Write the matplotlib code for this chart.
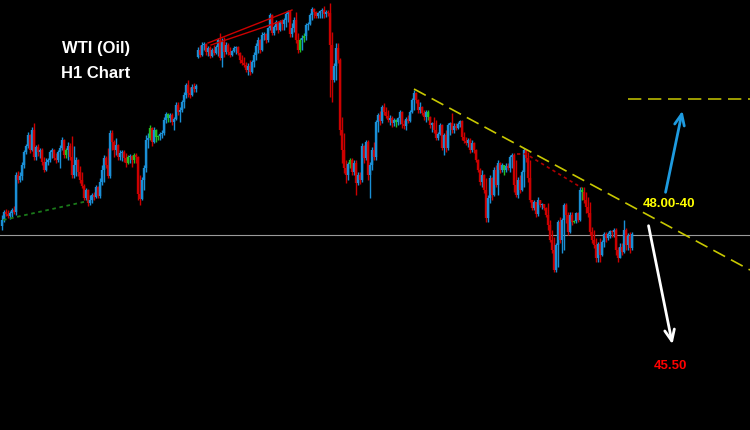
import matplotlib
matplotlib.use("Agg")
import matplotlib.pyplot as plt
import numpy as np

# WTI H1 candles (price)
opens = [47.74, 47.80, 47.88, 47.86, 47.84, 47.87, 47.90, 47.88, 48.25, 48.20,
         48.24, 48.35, 48.48, 48.54, 48.65, 48.50, 48.70, 48.43, 48.53, 48.48,
         48.50, 48.38, 48.30, 48.38, 48.40, 48.48, 48.50, 48.42, 48.40, 48.48,
         48.52, 48.60, 48.45, 48.50, 48.54, 48.43, 48.25, 48.35, 48.40, 48.28,
         48.20, 48.14, 48.02, 48.10, 47.97, 48.00, 48.05, 48.03, 48.13, 48.04,
         48.18, 48.30, 48.42, 48.35, 48.24, 48.67, 48.58, 48.50, 48.55, 48.43,
         48.47, 48.48, 48.42, 48.37, 48.43, 48.44, 48.40, 48.45, 48.43, 48.06,
         48.01, 48.20, 48.32, 48.60, 48.62, 48.72, 48.58, 48.70, 48.63, 48.64,
         48.66, 48.67, 48.80, 48.86, 48.82, 48.85, 48.78, 48.81, 48.95, 48.88,
         48.90, 48.98, 49.05, 49.15, 49.07, 49.05, 49.13, 49.11, 49.43, 49.50,
         49.45, 49.55, 49.56, 49.48, 49.52, 49.44, 49.50, 49.47, 49.53, 49.60,
         49.42, 49.58, 49.48, 49.55, 49.48, 49.45, 49.49, 49.52, 49.53, 49.47,
         49.40, 49.37, 49.35, 49.30, 49.34, 49.28, 49.38, 49.45, 49.54, 49.60,
         49.50, 49.65, 49.66, 49.60, 49.72, 49.85, 49.67, 49.73, 49.78, 49.70,
         49.78, 49.76, 49.80, 49.86, 49.89, 49.66, 49.72, 49.80, 49.60, 49.50,
         49.60, 49.62, 49.64, 49.75, 49.76, 49.85, 49.91, 49.88, 49.84, 49.87,
         49.89, 49.90, 49.86, 49.88, 49.87, 49.55, 49.20, 49.34, 49.52, 49.40,
         48.70, 48.50, 48.32, 48.25, 48.36, 48.40, 48.28, 48.37, 48.17, 48.25,
         48.20, 48.54, 48.42, 48.58, 48.25, 48.35, 48.50, 48.43, 48.78, 48.85,
         48.79, 48.93, 48.88, 48.84, 48.80, 48.82, 48.77, 48.80, 48.78, 48.82,
         48.88, 48.76, 48.74, 48.81, 48.79, 48.88, 49.00, 49.07, 49.00, 48.90,
         48.93, 48.87, 48.83, 48.88, 48.83, 48.75, 48.77, 48.70, 48.62, 48.66,
         48.75, 48.52, 48.65, 48.52, 48.75, 48.77, 48.70, 48.74, 48.72, 48.76,
         48.79, 48.63, 48.59, 48.57, 48.60, 48.50, 48.57, 48.50, 48.40, 48.30,
         48.18, 48.25, 48.10, 47.82, 48.02, 48.22, 48.05, 48.30, 48.15, 48.37,
         48.30, 48.35, 48.30, 48.34, 48.32, 48.43, 48.45, 48.15, 48.05, 48.20,
         48.10, 48.28, 48.50, 48.42, 48.22, 48.00, 47.92, 47.98, 47.86, 48.00,
         47.95, 47.96, 47.92, 47.85, 47.75, 47.60, 47.50, 47.30, 47.55, 47.78,
         47.60, 47.80, 47.95, 47.85, 47.68, 47.85, 47.78, 47.79, 47.87, 47.80,
         48.10, 48.08, 48.00, 47.93, 47.87, 47.68, 47.60, 47.55, 47.42, 47.56,
         47.45, 47.58, 47.66, 47.62, 47.66, 47.69, 47.68, 47.70, 47.50, 47.42,
         47.53, 47.48, 47.70, 47.55, 47.64, 47.52]

highs = [47.85, 47.90, 47.91, 47.90, 47.89, 47.92, 47.94, 48.28, 48.29, 48.28,
         48.38, 48.50, 48.56, 48.68, 48.66, 48.73, 48.77, 48.55, 48.56, 48.52,
         48.52, 48.43, 48.42, 48.42, 48.50, 48.52, 48.51, 48.47, 48.50, 48.55,
         48.63, 48.61, 48.52, 48.58, 48.57, 48.64, 48.54, 48.43, 48.41, 48.34,
         48.28, 48.16, 48.12, 48.11, 48.05, 48.07, 48.08, 48.15, 48.14, 48.22,
         48.35, 48.45, 48.44, 48.52, 48.70, 48.70, 48.60, 48.62, 48.56, 48.50,
         48.50, 48.50, 48.47, 48.45, 48.46, 48.45, 48.47, 48.47, 48.44, 48.25,
         48.23, 48.35, 48.65, 48.67, 48.75, 48.73, 48.73, 48.71, 48.65, 48.68,
         48.70, 48.83, 48.88, 48.87, 48.87, 48.87, 48.83, 48.98, 48.98, 48.93,
         49.00, 49.08, 49.17, 49.20, 49.13, 49.16, 49.17, 49.16, 49.53, 49.55,
         49.58, 49.58, 49.57, 49.54, 49.54, 49.52, 49.55, 49.55, 49.62, 49.67,
         49.62, 49.63, 49.58, 49.57, 49.53, 49.50, 49.54, 49.54, 49.54, 49.48,
         49.45, 49.43, 49.38, 49.37, 49.40, 49.40, 49.48, 49.57, 49.63, 49.61,
         49.68, 49.68, 49.67, 49.73, 49.87, 49.86, 49.75, 49.80, 49.79, 49.80,
         49.81, 49.82, 49.88, 49.90, 49.90, 49.77, 49.83, 49.88, 49.67, 49.62,
         49.65, 49.67, 49.77, 49.78, 49.87, 49.93, 49.92, 49.89, 49.88, 49.90,
         49.92, 49.94, 49.90, 49.90, 49.97, 49.68, 49.37, 49.57, 49.57, 49.42,
         48.83, 48.67, 48.40, 48.38, 48.42, 48.42, 48.40, 48.40, 48.28, 48.28,
         48.57, 48.55, 48.60, 48.60, 48.38, 48.53, 48.58, 48.80, 48.87, 48.89,
         48.95, 48.97, 48.93, 48.90, 48.85, 48.84, 48.82, 48.81, 48.83, 48.90,
         48.89, 48.80, 48.83, 48.85, 48.90, 49.02, 49.10, 49.08, 49.01, 48.98,
         48.94, 48.90, 48.90, 48.90, 48.84, 48.78, 48.83, 48.80, 48.68, 48.77,
         48.76, 48.67, 48.70, 48.77, 48.78, 48.87, 48.77, 48.77, 48.78, 48.80,
         48.80, 48.68, 48.63, 48.62, 48.62, 48.60, 48.58, 48.51, 48.41, 48.32,
         48.30, 48.26, 48.22, 48.05, 48.25, 48.23, 48.33, 48.35, 48.40, 48.38,
         48.37, 48.35, 48.37, 48.37, 48.45, 48.47, 48.47, 48.40, 48.23, 48.25,
         48.30, 48.52, 48.50, 48.48, 48.40, 48.00, 48.00, 47.98, 48.03, 48.00,
         47.97, 47.96, 47.93, 47.97, 47.80, 47.70, 47.63, 47.57, 47.80, 47.83,
         47.82, 47.97, 47.97, 47.88, 47.88, 47.88, 47.80, 47.88, 47.88, 48.13,
         48.13, 48.13, 48.08, 48.03, 47.98, 47.73, 47.70, 47.62, 47.58, 47.62,
         47.60, 47.68, 47.68, 47.68, 47.70, 47.70, 47.72, 47.72, 47.53, 47.57,
         47.57, 47.80, 47.72, 47.67, 47.68, 47.68]

lows = [47.70, 47.78, 47.84, 47.82, 47.81, 47.83, 47.86, 47.85, 48.17, 48.18,
        48.20, 48.32, 48.46, 48.52, 48.47, 48.49, 48.40, 48.40, 48.44, 48.42,
        48.35, 48.28, 48.29, 48.35, 48.38, 48.42, 48.40, 48.37, 48.38, 48.32,
        48.50, 48.42, 48.42, 48.40, 48.40, 48.22, 48.22, 48.24, 48.24, 48.17,
        48.12, 48.00, 48.00, 47.94, 47.95, 47.97, 48.00, 48.02, 48.02, 48.02,
        48.15, 48.18, 48.32, 48.22, 48.22, 48.50, 48.43, 48.45, 48.40, 48.40,
        48.39, 48.38, 48.33, 48.36, 48.37, 48.33, 48.37, 48.37, 48.00, 47.95,
        48.00, 48.10, 48.28, 48.52, 48.60, 48.54, 48.57, 48.58, 48.60, 48.60,
        48.62, 48.65, 48.77, 48.78, 48.78, 48.75, 48.70, 48.80, 48.85, 48.78,
        48.88, 48.92, 49.02, 49.03, 49.02, 49.04, 49.08, 49.08, 49.42, 49.43,
        49.44, 49.50, 49.45, 49.44, 49.42, 49.43, 49.45, 49.46, 49.44, 49.40,
        49.33, 49.43, 49.46, 49.45, 49.43, 49.44, 49.48, 49.46, 49.45, 49.37,
        49.35, 49.33, 49.28, 49.25, 49.25, 49.27, 49.33, 49.40, 49.47, 49.47,
        49.49, 49.60, 49.57, 49.58, 49.70, 49.65, 49.65, 49.70, 49.67, 49.69,
        49.70, 49.70, 49.73, 49.78, 49.63, 49.63, 49.68, 49.57, 49.47, 49.48,
        49.50, 49.58, 49.60, 49.70, 49.75, 49.80, 49.82, 49.82, 49.82, 49.82,
        49.82, 49.82, 49.83, 49.84, 49.03, 48.98, 49.18, 49.20, 49.37, 48.65,
        48.37, 48.27, 48.17, 48.20, 48.32, 48.25, 48.25, 48.05, 48.15, 48.16,
        48.18, 48.37, 48.40, 48.20, 48.02, 48.30, 48.40, 48.40, 48.68, 48.75,
        48.77, 48.85, 48.82, 48.78, 48.75, 48.73, 48.74, 48.73, 48.75, 48.76,
        48.72, 48.71, 48.70, 48.77, 48.78, 48.87, 48.90, 48.97, 48.87, 48.87,
        48.85, 48.80, 48.78, 48.80, 48.72, 48.68, 48.67, 48.60, 48.60, 48.65,
        48.50, 48.45, 48.48, 48.50, 48.65, 48.67, 48.67, 48.70, 48.71, 48.73,
        48.60, 48.57, 48.55, 48.53, 48.47, 48.48, 48.47, 48.38, 48.28, 48.15,
        48.13, 48.07, 47.78, 47.78, 47.97, 48.00, 48.04, 48.13, 48.05, 48.27,
        48.28, 48.25, 48.28, 48.30, 48.28, 48.32, 48.08, 48.03, 48.02, 48.07,
        48.09, 48.13, 48.38, 48.18, 47.98, 47.90, 47.90, 47.83, 47.84, 47.93,
        47.91, 47.90, 47.83, 47.70, 47.58, 47.47, 47.28, 47.28, 47.33, 47.57,
        47.47, 47.50, 47.77, 47.65, 47.67, 47.75, 47.77, 47.77, 47.78, 47.79,
        48.00, 47.97, 47.87, 47.83, 47.65, 47.57, 47.52, 47.38, 47.38, 47.38,
        47.44, 47.53, 47.58, 47.60, 47.62, 47.63, 47.63, 47.45, 47.38, 47.42,
        47.45, 47.47, 47.50, 47.50, 47.47, 47.50]

closes = [47.80, 47.88, 47.86, 47.84, 47.87, 47.90, 47.88, 48.25, 48.20, 48.24,
          48.35, 48.48, 48.54, 48.65, 48.50, 48.70, 48.43, 48.53, 48.48, 48.50,
          48.38, 48.30, 48.38, 48.40, 48.48, 48.50, 48.42, 48.40, 48.48, 48.52,
          48.60, 48.45, 48.50, 48.54, 48.43, 48.25, 48.35, 48.40, 48.28, 48.20,
          48.14, 48.02, 48.10, 47.97, 48.00, 48.05, 48.03, 48.13, 48.04, 48.18,
          48.30, 48.42, 48.35, 48.24, 48.67, 48.58, 48.50, 48.55, 48.43, 48.47,
          48.48, 48.42, 48.37, 48.43, 48.44, 48.40, 48.45, 48.43, 48.06, 48.01,
          48.20, 48.32, 48.60, 48.62, 48.72, 48.58, 48.70, 48.63, 48.64, 48.66,
          48.67, 48.80, 48.86, 48.82, 48.85, 48.78, 48.81, 48.95, 48.88, 48.90,
          48.98, 49.05, 49.15, 49.07, 49.05, 49.13, 49.11, 49.14, 49.50, 49.45,
          49.55, 49.56, 49.48, 49.52, 49.44, 49.50, 49.47, 49.53, 49.60, 49.42,
          49.58, 49.48, 49.55, 49.48, 49.45, 49.49, 49.52, 49.53, 49.47, 49.40,
          49.37, 49.35, 49.30, 49.34, 49.28, 49.38, 49.45, 49.54, 49.60, 49.50,
          49.65, 49.66, 49.60, 49.72, 49.85, 49.67, 49.73, 49.78, 49.70, 49.78,
          49.76, 49.80, 49.86, 49.89, 49.66, 49.72, 49.80, 49.60, 49.50, 49.60,
          49.62, 49.64, 49.75, 49.76, 49.85, 49.91, 49.88, 49.84, 49.87, 49.89,
          49.90, 49.86, 49.88, 49.87, 49.55, 49.20, 49.34, 49.52, 49.40, 48.70,
          48.50, 48.32, 48.25, 48.36, 48.40, 48.28, 48.37, 48.17, 48.25, 48.20,
          48.54, 48.42, 48.58, 48.25, 48.35, 48.50, 48.43, 48.78, 48.85, 48.79,
          48.93, 48.88, 48.84, 48.80, 48.82, 48.77, 48.80, 48.78, 48.82, 48.88,
          48.76, 48.74, 48.81, 48.79, 48.88, 49.00, 49.07, 49.00, 48.90, 48.93,
          48.87, 48.83, 48.88, 48.83, 48.75, 48.77, 48.70, 48.62, 48.66, 48.75,
          48.52, 48.65, 48.52, 48.75, 48.77, 48.70, 48.74, 48.72, 48.76, 48.79,
          48.63, 48.59, 48.57, 48.60, 48.50, 48.57, 48.50, 48.40, 48.30, 48.18,
          48.25, 48.10, 47.82, 48.02, 48.22, 48.05, 48.30, 48.15, 48.37, 48.30,
          48.35, 48.30, 48.34, 48.32, 48.43, 48.45, 48.15, 48.05, 48.20, 48.10,
          48.28, 48.50, 48.42, 48.22, 48.00, 47.92, 47.98, 47.86, 48.00, 47.95,
          47.96, 47.92, 47.85, 47.75, 47.60, 47.50, 47.30, 47.55, 47.78, 47.60,
          47.80, 47.95, 47.85, 47.68, 47.85, 47.78, 47.79, 47.87, 47.80, 48.10,
          48.08, 48.00, 47.93, 47.87, 47.68, 47.60, 47.55, 47.42, 47.56, 47.45,
          47.58, 47.66, 47.62, 47.66, 47.69, 47.68, 47.70, 47.50, 47.42, 47.53,
          47.48, 47.70, 47.55, 47.64, 47.52, 47.66]

# bars the platform painted green
green_bars = [32, 63, 66, 74, 77, 78, 83, 149, 151, 174, 197, 213, 251, 286, 290]

support_level = 47.65
target_up = 49.01
label_up = "48.00-40"
label_down = "45.50"

BLUE = "#1a8fd6"
RED = "#cc0000"
GREEN = "#22c022"

o = np.array(opens)
h = np.array(highs)
l = np.array(lows)
c = np.array(closes)
idx = np.arange(len(o))

cols = np.where(c >= o, BLUE, RED).astype(object)
cols[green_bars] = GREEN

fig = plt.figure(figsize=(7.5, 4.3), dpi=100, facecolor="black")
ax = fig.add_axes([0, 0, 1, 1])
ax.set_facecolor("black")

ax.axhline(support_level, color="#9a9a9a", lw=0.8, zorder=1)

ax.vlines(idx, l, h, colors=list(cols), lw=1.0, zorder=2)
ax.vlines(idx, o, c, colors=list(cols), lw=1.7, zorder=2)

# drawn objects
ax.plot([0.5, 43], [47.80, 47.99], color="#1a7a1a", lw=1.3, dashes=(2, 2), zorder=3)
ax.plot([103, 145], [49.57, 49.90], color=RED, lw=1, zorder=3)
ax.plot([104.5, 140], [49.55, 49.79], color=RED, lw=1, zorder=3)
ax.plot([257.5, 262, 290], [48.46, 48.46, 48.12], color="#b00000", lw=1.2,
        dashes=(2, 2), zorder=3)
ax.plot([206, 374], [49.11, 47.30], color="#c8c800", lw=1.2, dashes=(8, 4), zorder=3)
ax.plot([313, 374], [target_up, target_up], color="#b8b800", lw=1.2,
        dashes=(8, 4), zorder=3)

ax.annotate("", xy=(340.5, 48.92), xytext=(331.5, 48.05),
            arrowprops=dict(arrowstyle="->,head_length=0.8,head_width=0.35",
                            color="#1e9be0", lw=2))
ax.annotate("", xy=(335.5, 46.53), xytext=(323, 47.77),
            arrowprops=dict(arrowstyle="->,head_length=0.8,head_width=0.35",
                            color="white", lw=2))

ax.text(333.5, 47.96, label_up, color="#ffff00", fontsize=9.5, fontweight="bold",
        family="Liberation Sans", ha="center", va="center")
ax.text(334, 46.34, label_down, color="#ff0000", fontsize=9.5, fontweight="bold",
        family="Liberation Sans", ha="center", va="center")

ax.text(0.128, 0.888, "WTI (Oil)", transform=ax.transAxes, color="white",
        fontsize=12, fontweight="bold", family="Liberation Sans",
        ha="center", va="center")
ax.text(0.128, 0.830, "H1 Chart", transform=ax.transAxes, color="white",
        fontsize=12, fontweight="bold", family="Liberation Sans",
        ha="center", va="center")

ax.set_xlim(-1, 374)
ax.set_ylim(45.70, 50.00)
ax.axis("off")

fig.savefig("out.png", dpi=100, facecolor="black")
